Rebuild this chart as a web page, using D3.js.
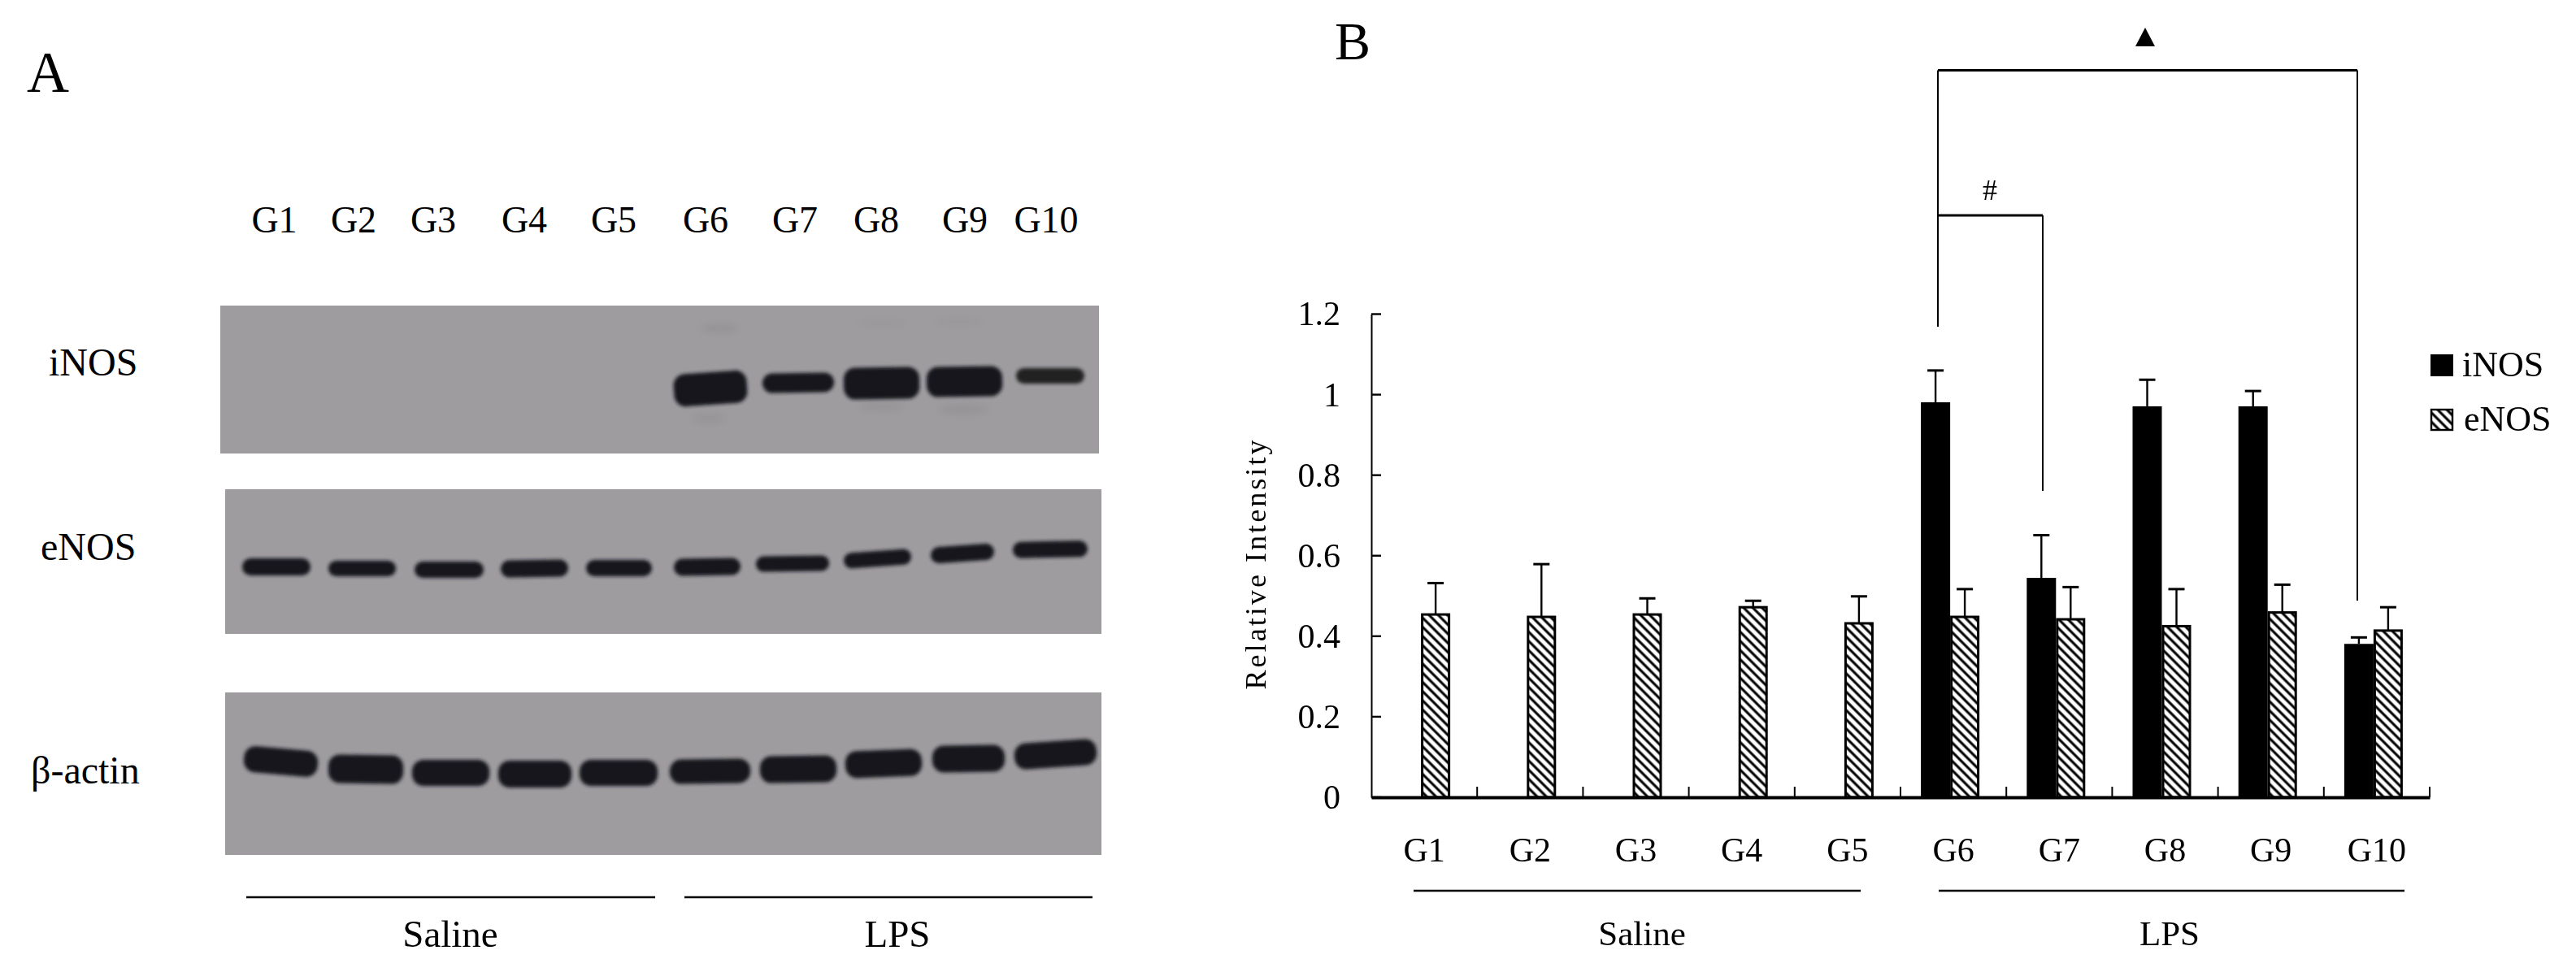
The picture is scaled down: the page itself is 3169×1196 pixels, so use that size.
<!DOCTYPE html>
<html><head><meta charset="utf-8">
<script src="https://cdn.jsdelivr.net/npm/d3@7"></script>
<style>html,body{margin:0;padding:0;background:#fff}svg{display:block}text{font-family:"Liberation Serif",serif;fill:#000}</style>
</head><body><svg id="c" width="3169" height="1196"></svg>
<script>
const groups = ["G1","G2","G3","G4","G5","G6","G7","G8","G9","G10"];
const yTicks = [0,0.2,0.4,0.6,0.8,1,1.2];
const iNOS = [null,null,null,null,null,0.981,0.545,0.971,0.971,0.381];
const iNOSErr = [null,null,null,null,null,1.06,0.651,1.037,1.009,0.397];
const eNOS = [0.454,0.448,0.454,0.472,0.432,0.448,0.442,0.425,0.459,0.414];
const eNOSErr = [0.532,0.579,0.494,0.488,0.499,0.517,0.522,0.517,0.528,0.472];
const seriesNames = ["iNOS","eNOS"];
const blotLabelsX = [337.5,435,533,645,755,868,978,1078,1187,1287];
// blot lanes: [left, right, top, bottom, tilt°, opacity] read from the film
const iNOSLanes = [[829,919,458,498,-4,1],[938,1026,459,483,-1,1],[1038,1131,452,491,-1,1],[1140,1233,451,488,-1,1],[1250,1334,453,472,0,0.92]];
const eNOSLanes = [[298,382,687,708,0,1],[404,487,690,709,0,1],[510,595,691,711,0,1],[616,699,689,710,-1,1],[721,802,689,709,0,1],[829,911,687,708,-1,1],[930,1020,684,703,-1,1],[1038,1121,678,697,-4,1],[1145,1223,671,691,-4,1],[1246,1338,666,686,-1,1]];
const actinLanes = [[300,391,921,953,5,1],[404,496,929,964,1,1],[507,602,935,967,0,1],[613,703,936,969,0,1],[713,809,935,967,0,1],[824,923,934,964,-1,1],[935,1029,930,963,-1,1],[1040,1134,923,956,-2,1],[1147,1236,917,950,-1,1],[1248,1349,912,944,-4,1]];
const smudges = [[885,404,22,4,0.07],[872,515,20,5,0.05],[1085,500,28,5,0.05],[1185,504,30,6,0.05],[1085,398,30,3,0.03],[1180,396,30,3,0.03]];

const svg = d3.select("#c");
const defs = svg.append("defs");
const pat = defs.append("pattern").attr("id","hatch").attr("patternUnits","userSpaceOnUse")
  .attr("width",8).attr("height",8).attr("patternTransform","rotate(-45)");
pat.append("rect").attr("width",8).attr("height",8).attr("fill","#fff");
pat.append("line").attr("x1",4).attr("x2",4).attr("y1",0).attr("y2",8).attr("stroke","#000").attr("stroke-width",3.1);
const blur = defs.append("filter").attr("id","blur").attr("x","-20%").attr("y","-60%").attr("width","140%").attr("height","220%");
blur.append("feGaussianBlur").attr("stdDeviation",2.2);
const blur2 = defs.append("filter").attr("id","blur2").attr("x","-50%").attr("y","-200%").attr("width","200%").attr("height","500%");
blur2.append("feGaussianBlur").attr("stdDeviation",4);

// ---------- Panel A ----------
const A = svg.append("g");
A.append("text").attr("x",33).attr("y",113).attr("font-size",72).text("A");
A.selectAll(".gl").data(groups).join("text").attr("x",(d,i)=>blotLabelsX[i]).attr("y",286)
  .attr("text-anchor","middle").attr("font-size",46).text(d=>d);
const panels = [
 {name:"iNOS",x:271,w:1081,y:376,h:182,lanes:iNOSLanes,lx:60,ly:462},
 {name:"eNOS",x:277,w:1078,y:602,h:178,lanes:eNOSLanes,lx:50,ly:689},
 {name:"β-actin",x:277,w:1078,y:852,h:200,lanes:actinLanes,lx:38,ly:964}];
panels.forEach(p=>{
  A.append("rect").attr("x",p.x).attr("y",p.y).attr("width",p.w).attr("height",p.h).attr("fill","#9e9c9f");
  A.append("text").attr("x",p.lx).attr("y",p.ly).attr("font-size",48).text(p.name);
  A.append("g").attr("filter","url(#blur)").selectAll("rect").data(p.lanes).join("rect")
    .attr("x",d=>d[0]).attr("y",d=>d[2]).attr("width",d=>d[1]-d[0]).attr("height",d=>d[3]-d[2])
    .attr("rx",d=>Math.min(14,(d[3]-d[2])/2)).attr("fill","#18181a").attr("opacity",d=>d[5])
    .attr("transform",d=>`rotate(${d[4]} ${(d[0]+d[1])/2} ${(d[2]+d[3])/2})`);
});
A.append("g").attr("filter","url(#blur2)").selectAll("ellipse").data(smudges).join("ellipse")
  .attr("cx",d=>d[0]).attr("cy",d=>d[1]).attr("rx",d=>d[2]).attr("ry",d=>d[3]).attr("fill","#000").attr("opacity",d=>d[4]);
[[303,806,"Saline",554],[842,1344,"LPS",1104]].forEach(s=>{
  A.append("line").attr("x1",s[0]).attr("x2",s[1]).attr("y1",1104).attr("y2",1104).attr("stroke","#000").attr("stroke-width",2.5);
  A.append("text").attr("x",s[3]).attr("y",1165).attr("text-anchor","middle").attr("font-size",47).text(s[2]);
});

// ---------- Panel B ----------
const B = svg.append("g");
const x = d3.scaleBand().domain(groups).range([1687,2989]);
const y = d3.scaleLinear().domain([0,1.2]).range([981,386.5]);
const inner = d3.scaleBand().domain(seriesNames).range([x.bandwidth()/2-40,x.bandwidth()/2+32]);
B.append("text").attr("x",1642).attr("y",73).attr("font-size",66).text("B");

const series = [{n:"iNOS",v:iNOS,e:iNOSErr},{n:"eNOS",v:eNOS,e:eNOSErr}];
series.forEach(s=>{
  const rows = groups.map((g,i)=>({g,v:s.v[i],e:s.e[i]})).filter(d=>d.v!=null);
  const cx = d=>x(d.g)+inner(s.n)+inner.bandwidth()/2;
  B.selectAll(".e"+s.n).data(rows).join("line").attr("x1",cx).attr("x2",cx).attr("y1",d=>y(d.v)).attr("y2",d=>y(d.e)).attr("stroke","#000").attr("stroke-width",2.4);
  B.selectAll(".c"+s.n).data(rows).join("line").attr("x1",d=>cx(d)-10).attr("x2",d=>cx(d)+10).attr("y1",d=>y(d.e)).attr("y2",d=>y(d.e)).attr("stroke","#000").attr("stroke-width",3);
  B.selectAll(".b"+s.n).data(rows).join("rect")
    .attr("x",d=>x(d.g)+inner(s.n)+(s.n==="eNOS"?1.5:0)).attr("y",d=>y(d.v))
    .attr("width",inner.bandwidth()-(s.n==="eNOS"?3:0)).attr("height",d=>y(0)-y(d.v))
    .attr("fill",s.n==="iNOS"?"#000":"url(#hatch)").attr("stroke","#000").attr("stroke-width",s.n==="iNOS"?0:3);
});

const yAxis = d3.axisLeft(y).tickValues(yTicks).tickFormat(d3.format("~g")).tickSize(0).tickPadding(38);
const ya = B.append("g").attr("transform","translate(1687,0)").call(yAxis);
ya.select(".domain").attr("stroke","#000").attr("stroke-width",2);
ya.selectAll("text").attr("font-size",42).attr("font-family","Liberation Serif");
B.append("g").selectAll("line").data(yTicks).join("line").attr("x1",1687).attr("x2",1699).attr("y1",d=>y(d)).attr("y2",d=>y(d)).attr("stroke","#000").attr("stroke-width",2.4);

const xAxis = d3.axisBottom(x).tickSize(0).tickPadding(49);
const xa = B.append("g").attr("transform","translate(0,981)").call(xAxis);
xa.select(".domain").attr("stroke","#000").attr("stroke-width",4);
xa.selectAll("text").attr("font-size",42).attr("font-family","Liberation Serif");
B.append("g").selectAll("line").data(groups).join("line").attr("x1",d=>x(d)+x.bandwidth()).attr("x2",d=>x(d)+x.bandwidth()).attr("y1",981).attr("y2",968).attr("stroke","#000").attr("stroke-width",2);

B.append("text").attr("transform","translate(1557,695) rotate(-90)").attr("text-anchor","middle").attr("font-size",36)
  .attr("textLength",307).attr("lengthAdjust","spacing").text("Relative Intensity");

[[1739,2289,"Saline",2020],[2385,2958,"LPS",2669]].forEach(s=>{
  B.append("line").attr("x1",s[0]).attr("x2",s[1]).attr("y1",1096).attr("y2",1096).attr("stroke","#000").attr("stroke-width",2.5);
  B.append("text").attr("x",s[3]).attr("y",1163).attr("text-anchor","middle").attr("font-size",43).text(s[2]);
});

// significance brackets
const br = d3.line();
B.append("path").attr("d",br([[2384,402],[2384,86.5]])).attr("stroke","#000").attr("stroke-width",2).attr("fill","none");
B.append("path").attr("d",br([[2384,86.5],[2900,86.5]])).attr("stroke","#000").attr("stroke-width",3).attr("fill","none");
B.append("path").attr("d",br([[2900,86.5],[2900,739]])).attr("stroke","#000").attr("stroke-width",2).attr("fill","none");
B.append("path").attr("d",br([[2384,265],[2513,265]])).attr("stroke","#000").attr("stroke-width",3).attr("fill","none");
B.append("path").attr("d",br([[2513,265],[2513,604]])).attr("stroke","#000").attr("stroke-width",2).attr("fill","none");
B.append("path").attr("d",br([[2627,57],[2639,34],[2651,57]])+"Z").attr("fill","#000");
B.append("text").attr("x",2448).attr("y",246).attr("text-anchor","middle").attr("font-size",36).text("#");

// legend
const lg = B.append("g");
lg.append("rect").attr("x",2990).attr("y",436).attr("width",28).attr("height",27).attr("fill","#000");
lg.append("rect").attr("x",2991).attr("y",504).attr("width",26).attr("height",25).attr("fill","url(#hatch)").attr("stroke","#000").attr("stroke-width",2.4);
lg.append("text").attr("x",3029).attr("y",463).attr("font-size",44).text(seriesNames[0]);
lg.append("text").attr("x",3031).attr("y",530).attr("font-size",44).text(seriesNames[1]);
</script></body></html>
